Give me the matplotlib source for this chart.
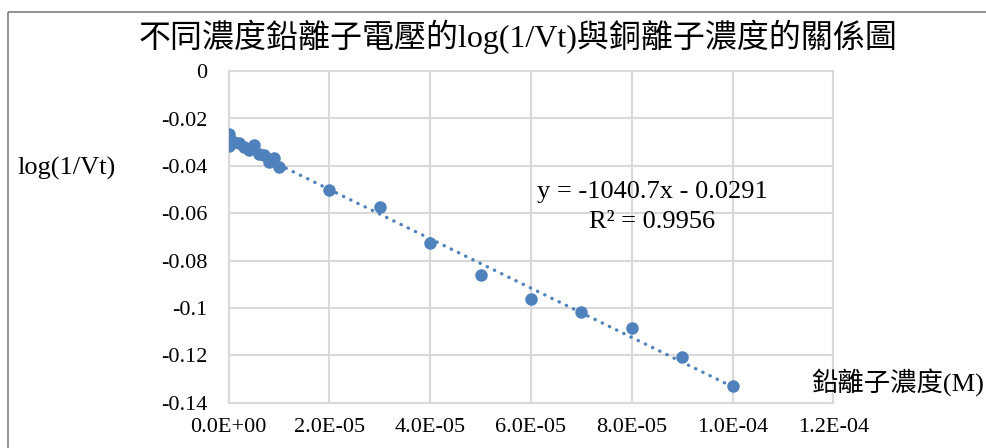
import numpy as np
import matplotlib
matplotlib.use("Agg")
import matplotlib.pyplot as plt
from matplotlib.patches import Rectangle
from matplotlib.ticker import FuncFormatter

# data
conc = [0, 0, 0, 1e-6, 2e-6, 3e-6, 4e-6, 5e-6, 6e-6, 7e-6, 8e-6, 9e-6, 1e-5,
        2e-5, 3e-5, 4e-5, 5e-5, 6e-5, 7e-5, 8e-5, 9e-5, 1e-4]
log_inv_vt = [-0.0265, -0.0300, -0.0318, -0.0298, -0.0305, -0.0322, -0.0335,
              -0.0312, -0.0348, -0.0355, -0.0385, -0.0368, -0.0405,
              -0.0502, -0.0572, -0.0727, -0.0860, -0.0963, -0.1015, -0.1083,
              -0.1208, -0.1329]
slope = -1040.7
intercept = -0.0291
r2 = 0.9956

x_ticks = [0, 2e-5, 4e-5, 6e-5, 8e-5, 1e-4, 1.2e-4]
y_ticks = [0, -0.02, -0.04, -0.06, -0.08, -0.1, -0.12, -0.14]

plt.rcParams['font.family'] = ['Liberation Serif', 'Noto Sans CJK TC']

W, H = 986, 448
fig = plt.figure(figsize=(W / 100, H / 100), dpi=100)

# chart border (cropped on the right and bottom)
fig.patches.append(Rectangle((8 / W, 1 - 12 / H), 2, -2, transform=fig.transFigure,
                             fill=False, edgecolor='#7f7f7f', linewidth=1.2))

left, right = 228.5 / W, 833.3 / W
top, bottom = 1 - 71.1 / H, 1 - 402.9 / H
ax = fig.add_axes([left, bottom, right - left, top - bottom])

blue = '#4F81BD'
grid = '#D9D9D9'

# trendline
xs = np.array([0, max(conc)])
ax.plot(xs, slope * xs + intercept, color=blue, linewidth=2.4,
        linestyle=(0, (0.1, 2.3)), dash_capstyle='round', zorder=2)

ax.plot(conc, log_inv_vt, 'o', color=blue, markersize=9, markeredgewidth=0, zorder=3)

ax.set_xlim(0, 1.2e-4)
ax.set_ylim(-0.14, 0)
ax.set_xticks(x_ticks)
ax.set_yticks(y_ticks)
ax.xaxis.set_major_formatter(FuncFormatter(lambda v, p: f"{v:.1E}"))
ax.yaxis.set_major_formatter(FuncFormatter(lambda v, p: f"{round(v, 4):g}"))
ax.tick_params(axis='both', length=0, labelsize=16)
ax.tick_params(axis='y', pad=15)
ax.tick_params(axis='x', pad=11)
ax.grid(True, color=grid, linewidth=1.5)
ax.set_axisbelow(True)
for s in ax.spines.values():
    s.set_color(grid)
    s.set_linewidth(1.5)

ax.text(652 / W, 1 - 192 / H, f"y = {slope}x - {abs(intercept)}", transform=fig.transFigure,
        ha='center', va='center', fontsize=19)
ax.text(652 / W, 1 - 222 / H, f"R² = {r2}", transform=fig.transFigure,
        ha='center', va='center', fontsize=19)

fig.text(518 / W, 1 - 37 / H, "不同濃度鉛離子電壓的log(1/Vt)與銅離子濃度的關係圖",
         ha='center', va='center', fontsize=23)
fig.text(67 / W, 1 - 168 / H, "log(1/Vt)", ha='center', va='center', fontsize=19)
fig.text(984 / W, 1 - 383 / H, "鉛離子濃度(M)", ha='right', va='center', fontsize=19)

fig.savefig("out.png", dpi=100)
